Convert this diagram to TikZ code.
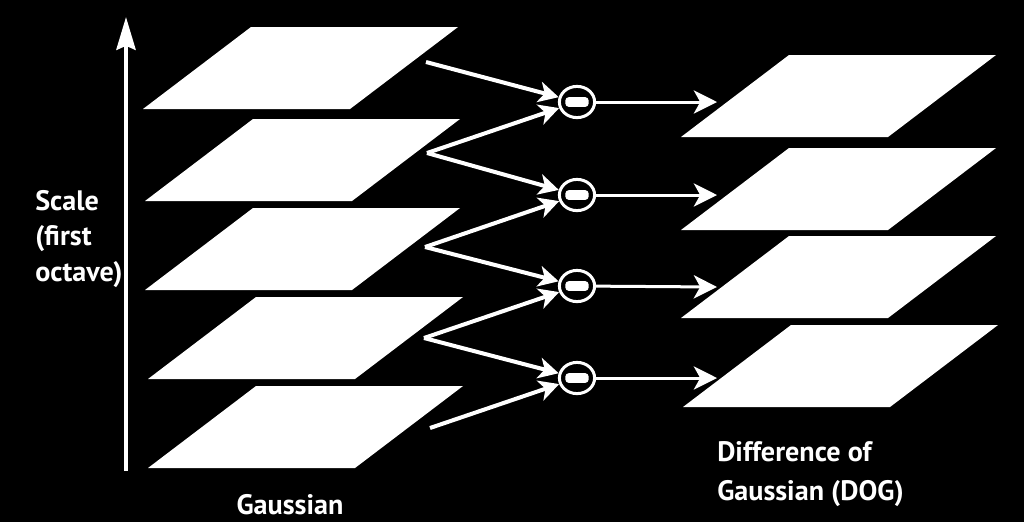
\documentclass[tikz,border=0pt]{standalone}
\usepackage{fontspec}
\setmainfont{PT Sans}
\usetikzlibrary{arrows.meta,shapes.geometric}
\tikzset{
  layer/.style={fill=white},
  link/.style={
    draw=white,
    line width=0.1cm,
    -{Stealth[length=0.5cm,width=0.52cm,inset=0.14cm]}
  },
  link-thin/.style={
    link,
    line width=0.075cm,
    -{Stealth[length=0.58cm,width=0.58cm,inset=0.16cm]}
  },
  axis/.style={
    draw=white,
    line width=0.1cm,
    -{Stealth[length=0.82cm,width=0.48cm,inset=0.1cm]}
  },
  minus-node/.style={ellipse, draw=white, line width=0.075cm,
    minimum width=0.88cm, minimum height=0.78cm, inner sep=0pt,
    path picture={\fill[white, rounded corners=0.08cm]
      ([xshift=-0.29cm,yshift=-0.12cm]path picture bounding box.center) rectangle
      ([xshift=0.29cm,yshift=0.12cm]path picture bounding box.center);}},
  label-text/.style={text=white, inner sep=0pt, align=left,
    font=\bfseries\fontsize{20}{28}\selectfont}
}

\begin{document}
\begin{tikzpicture}[x=0.025cm,y=-0.025cm]
  \useasboundingbox (0,0) rectangle (1024,522);
  \fill[black] (0,0) rectangle (1024,522);

  % --- one layer, given by its bottom left corner ---
  \newcommand{\dlayer}[3]{%
    \coordinate (#1) at (#2,#3);
    \fill[layer] (#1) -- ++(207,0) -- ++(108,-82) -- ++(-207,0) -- cycle;
  }

  % scale axis
  \coordinate (axis-bottom) at (126,471);
  \coordinate (axis-top) at (126,17);
  \draw[axis] (axis-bottom) -- (axis-top);

  % Gaussian stack (left)
  \dlayer{g1}{143}{109}
  \dlayer{g2}{145}{201}
  \dlayer{g3}{145}{290}
  \dlayer{g4}{148}{379}
  \dlayer{g5}{148}{468}

  % DOG stack (right)
  \dlayer{d1}{681}{137}
  \dlayer{d2}{681}{230}
  \dlayer{d3}{681}{318}
  \dlayer{d4}{683}{407}

  % arrow ends beside the layers
  \coordinate (g1-out) at (426,62);
  \coordinate (g2-out) at (427,153);
  \coordinate (g3-out) at (425,247);
  \coordinate (g4-out) at (424,338);
  \coordinate (g5-out) at (430,428);

  % subtraction nodes
  \node[minus-node] (m1) at (577,102) {};
  \node[minus-node] (m2) at (577,195) {};
  \node[minus-node] (m3) at (577,286) {};
  \node[minus-node] (m4) at (577,378) {};

  \coordinate (d1-in) at (717,102);
  \coordinate (d2-in) at (717,195);
  \coordinate (d3-in) at (717,287);
  \coordinate (d4-in) at (717,378);

  \foreach \a/\b in {g1/m1, g2/m1, g2/m2, g3/m2, g3/m3, g4/m3, g4/m4, g5/m4}
    \draw[link] (\a-out) -- (\b);
  \foreach \i in {1,...,4}
    \draw[link-thin] (m\i) -- (d\i-in);

  % labels
  \node[label-text, anchor=north west, font=\bfseries\fontsize{20}{25.2}\selectfont]
    (scale) at (35,190) {Scale\\(first\\octave)};
  \node[label-text, anchor=base] (gauss) at (290,514) {Gaussian};
  \node[label-text, anchor=north west] (dog) at (717,441) {Difference of\\Gaussian (DOG)};
\end{tikzpicture}
\end{document}
